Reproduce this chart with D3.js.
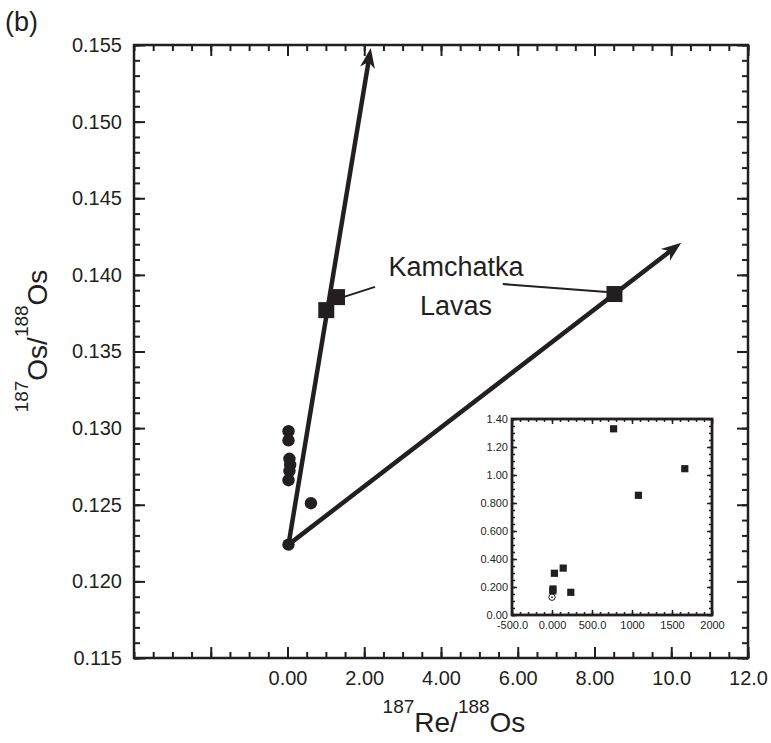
<!DOCTYPE html>
<html>
<head>
<meta charset="utf-8">
<script src="https://cdn.jsdelivr.net/npm/d3@7"></script>
<style>
  body { margin: 0; background: #fff; }
  text { font-family: "Liberation Sans", Arial, sans-serif; fill: #231f20; }
</style>
</head>
<body>
<div id="chart"></div>
<script>
// main panel data: 187Re/188Os vs 187Os/188Os
const dotX = [0.026, 0.026, 0.05, 0.07, 0.05, 0.026, 0.61, 0.026];
const dotY = [0.1298, 0.1292, 0.1280, 0.1276, 0.1272, 0.1266, 0.1251, 0.1224];
const lavaX = [1.01, 1.29, 8.52];
const lavaY = [0.1377, 0.13855, 0.13875];

// the two lines start at the low dot and end in arrows
const arrowStart = [0.026, 0.1224];
const arrowEndX = [2.17, 10.26];
const arrowEndY = [0.1548, 0.1421];

// leader lines from label to squares: [x1, y1, x2, y2]
const leaders = [
  [2.28, 0.13922, 1.45, 0.13855],
  [5.61, 0.1394, 8.32, 0.13888]
];

const xTickValues = [0, 2, 4, 6, 8, 10, 12];
const xTickLabels = ["0.00", "2.00", "4.00", "6.00", "8.00", "10.0", "12.0"];
const yTickValues = [0.115, 0.120, 0.125, 0.130, 0.135, 0.140, 0.145, 0.150, 0.155];
const yTickLabels = ["0.115", "0.120", "0.125", "0.130", "0.135", "0.140", "0.145", "0.150", "0.155"];

// inset data
const insetX = [770, 1660, 1080, 140, 30, 235, 12, 10];
const insetY = [1.33, 1.045, 0.855, 0.335, 0.298, 0.162, 0.186, 0.172];
const insetOpenX = [0];
const insetOpenY = [0.127];
const insetXTicks = [-500, 0, 500, 1000, 1500, 2000];
const insetXLabels = ["-500.0", "0.000", "500.0", "1000", "1500", "2000"];
const insetYTicks = [0, 0.2, 0.4, 0.6, 0.8, 1.0, 1.2, 1.4];
const insetYLabels = ["0.00", "0.200", "0.400", "0.600", "0.800", "1.00", "1.20", "1.40"];

const ink = "#231f20";

let svg = d3.select("#chart")
    .append("svg")
    .attr("width", 771)
    .attr("height", 743);

let x = d3.scaleLinear().domain([-4, 12]).range([134, 748]);
let y = d3.scaleLinear().domain([0.115, 0.155]).range([658, 45]);

// ticks inward on all four sides, labels only bottom and left
function drawAxes(g, xs, ys, o) {
    let sides = [
        [d3.axisBottom, xs, "translate(0," + ys.range()[0] + ")", o.xMajor, o.xMinor, o.xFmt, o.xPad],
        [d3.axisTop, xs, "translate(0," + ys.range()[1] + ")", o.xMajor, o.xMinor, null, 0],
        [d3.axisLeft, ys, "translate(" + xs.range()[0] + ",0)", o.yMajor, o.yMinor, o.yFmt, o.yPad],
        [d3.axisRight, ys, "translate(" + xs.range()[1] + ",0)", o.yMajor, o.yMinor, null, 0]
    ];
    sides.forEach(function(s) {
        let minor = g.append("g").attr("transform", s[2])
            .call(s[0](s[1]).tickValues(s[4]).tickSize(-o.minorLen).tickFormat(""));
        let major = g.append("g").attr("transform", s[2])
            .call(s[0](s[1]).tickValues(s[3]).tickSize(-o.majorLen).tickPadding(s[6])
                .tickFormat(s[5] ? s[5] : ""));
        [minor, major].forEach(function(a) {
            a.attr("color", ink).style("font-size", o.fontSize + "px");
            a.select(".domain").remove();
            a.selectAll("line").attr("stroke-width", o.tickWidth);
        });
    });
    g.append("rect")
        .attr("x", xs.range()[0])
        .attr("y", ys.range()[1])
        .attr("width", xs.range()[1] - xs.range()[0])
        .attr("height", ys.range()[0] - ys.range()[1])
        .attr("fill", "none")
        .attr("stroke", ink)
        .attr("stroke-width", o.frameWidth);
}

drawAxes(svg.append("g"), x, y, {
    xMajor: [-2].concat(xTickValues),
    xMinor: d3.range(-4, 12.001, 0.5),
    yMajor: yTickValues,
    yMinor: d3.range(115, 156).map(function(d) { return d / 1000; }),
    xFmt: function(d) { let i = xTickValues.indexOf(d); return i < 0 ? "" : xTickLabels[i]; },
    yFmt: function(d) { return yTickLabels[yTickValues.indexOf(d)]; },
    majorLen: 11, minorLen: 6, xPad: 13, yPad: 12, fontSize: 20,
    tickWidth: 2, frameWidth: 2.5
});

// arrows
let x0 = x(arrowStart[0]), y0 = y(arrowStart[1]);
arrowEndX.forEach(function(ex, i) {
    let tx = x(ex), ty = y(arrowEndY[i]);
    let len = Math.hypot(tx - x0, ty - y0);
    let ux = (tx - x0) / len, uy = (ty - y0) / len;
    let nx = -uy, ny = ux;
    let headLen = 20, half = 7.5, notch = 14;
    svg.append("line")
        .attr("x1", x0).attr("y1", y0)
        .attr("x2", tx - ux * (notch - 1)).attr("y2", ty - uy * (notch - 1))
        .attr("stroke", ink)
        .attr("stroke-width", 4.5);
    let p = [
        [tx, ty],
        [tx - ux * headLen + nx * half, ty - uy * headLen + ny * half],
        [tx - ux * notch, ty - uy * notch],
        [tx - ux * headLen - nx * half, ty - uy * headLen - ny * half]
    ];
    svg.append("path")
        .attr("d", "M" + p.join("L") + "Z")
        .attr("fill", ink);
});

// leader lines
svg.selectAll(".leader")
    .data(leaders)
    .enter()
    .append("line")
    .attr("class", "leader")
    .attr("x1", function(d) { return x(d[0]); })
    .attr("y1", function(d) { return y(d[1]); })
    .attr("x2", function(d) { return x(d[2]); })
    .attr("y2", function(d) { return y(d[3]); })
    .attr("stroke", ink)
    .attr("stroke-width", 2);

// circles
svg.selectAll(".dot")
    .data(dotX)
    .enter()
    .append("circle")
    .attr("class", "dot")
    .attr("cx", function(d) { return x(d); })
    .attr("cy", function(d, i) { return y(dotY[i]); })
    .attr("r", 6.2)
    .attr("fill", ink);

// Kamchatka lava squares
svg.selectAll(".lava")
    .data(lavaX)
    .enter()
    .append("rect")
    .attr("class", "lava")
    .attr("x", function(d) { return x(d) - 8; })
    .attr("y", function(d, i) { return y(lavaY[i]) - 8; })
    .attr("width", 16)
    .attr("height", 16)
    .attr("fill", ink);

// label
let lab = svg.append("text")
    .attr("x", x(4.39))
    .attr("y", y(0.1399))
    .attr("text-anchor", "middle")
    .style("font-size", "27px");
lab.append("tspan").attr("x", x(4.39)).text("Kamchatka");
lab.append("tspan").attr("x", x(4.39)).attr("dy", 39).text("Lavas");

// axis titles with superscripts
function isoLabel(t, parts) {
    parts.forEach(function(p, i) {
        t.append("tspan")
            .attr("dy", i === 0 ? -19 : (i % 2 === 0 ? -19 : 19))
            .style("font-size", i % 2 === 0 ? "19px" : "28px")
            .text(p);
    });
}
let xt = svg.append("text")
    .attr("x", 454)
    .attr("y", 732)
    .attr("text-anchor", "middle");
isoLabel(xt, ["187", "Re/", "188", "Os"]);

let yt = svg.append("text")
    .attr("transform", "translate(47,341) rotate(-90)")
    .attr("text-anchor", "middle");
isoLabel(yt, ["187", "Os/", "188", "Os"]);

svg.append("text")
    .attr("x", 5)
    .attr("y", 31)
    .style("font-size", "27px")
    .text("(b)");

// inset
let ix = d3.scaleLinear().domain([-500, 2000]).range([512, 712]);
let iy = d3.scaleLinear().domain([0, 1.4]).range([615, 419]);
let inset = svg.append("g");
inset.append("rect")
    .attr("x", 512).attr("y", 419)
    .attr("width", 200).attr("height", 196)
    .attr("fill", "#fff");
drawAxes(inset, ix, iy, {
    xMajor: insetXTicks,
    xMinor: d3.range(-500, 2001, 100),
    yMajor: insetYTicks,
    yMinor: d3.range(0, 29).map(function(d) { return d * 0.05; }),
    xFmt: function(d) { return insetXLabels[insetXTicks.indexOf(d)]; },
    yFmt: function(d) { return insetYLabels[insetYTicks.indexOf(d)]; },
    majorLen: 5, minorLen: 3, xPad: 6, yPad: 4, fontSize: 11,
    tickWidth: 1.5, frameWidth: 2.8
});

inset.selectAll(".isq")
    .data(insetX)
    .enter()
    .append("rect")
    .attr("class", "isq")
    .attr("x", function(d) { return ix(d) - 3.6; })
    .attr("y", function(d, i) { return iy(insetY[i]) - 3.6; })
    .attr("width", 7.2)
    .attr("height", 7.2)
    .attr("fill", ink);

inset.selectAll(".iopen")
    .data(insetOpenX)
    .enter()
    .append("circle")
    .attr("cx", function(d) { return ix(d); })
    .attr("cy", function(d, i) { return iy(insetOpenY[i]); })
    .attr("r", 3.2)
    .attr("fill", "#fff")
    .attr("stroke", ink)
    .attr("stroke-width", 1);
inset.selectAll(".iopendot")
    .data(insetOpenX)
    .enter()
    .append("circle")
    .attr("cx", function(d) { return ix(d); })
    .attr("cy", function(d, i) { return iy(insetOpenY[i]); })
    .attr("r", 0.9)
    .attr("fill", ink);
</script>
</body>
</html>
